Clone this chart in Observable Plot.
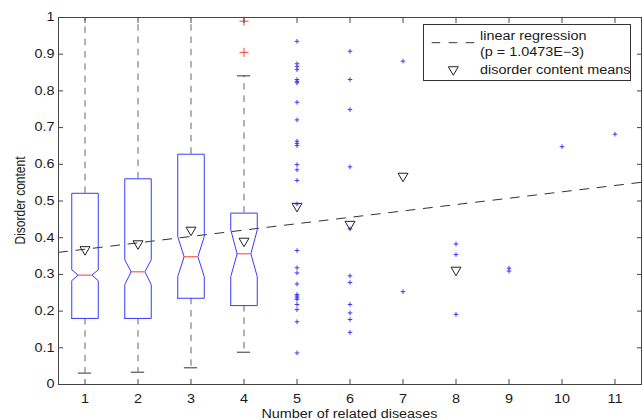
<!DOCTYPE html>
<html>
<head>
<meta charset="utf-8">
<script src="https://cdn.jsdelivr.net/npm/d3@7"></script>
<script src="https://cdn.jsdelivr.net/npm/@observablehq/plot@0.6"></script>
<style>
  html, body { margin: 0; padding: 0; background: #fff; }
</style>
</head>
<body>
<script>
// Disorder content versus number of related diseases

const xTicks = [1, 2, 3, 4, 5, 6, 7, 8, 9, 10, 11];
const yTicks = [0, 0.1, 0.2, 0.3, 0.4, 0.5, 0.6, 0.7, 0.8, 0.9, 1];

// notched box plots for groups 1–4
const boxGroups = [1, 2, 3, 4];
const boxQ1 = [0.180, 0.180, 0.235, 0.215];
const boxQ3 = [0.521, 0.5605, 0.6275, 0.467];
const boxMedian = [0.298, 0.307, 0.348, 0.356];
const notchLow = [0.283, 0.272, 0.294, 0.294];
const notchHigh = [0.3125, 0.340, 0.403, 0.4215];
const whiskerLow = [0.031, 0.0335, 0.0455, 0.088];
const whiskerHigh = [1.0, 1.0, 1.0, 0.841];

// outliers beyond the group 4 whisker
const outlierGroups = [4, 4];
const outlierValues = [0.990, 0.905];

// individual values for the sparser groups 5–11
const scatterGroups = [5, 6, 7, 8, 9, 10, 11];
const scatterValues = [
  [0.935, 0.874, 0.866, 0.858, 0.831, 0.826, 0.822, 0.769, 0.721, 0.663, 0.657, 0.651,
   0.599, 0.585, 0.556, 0.492, 0.365, 0.318, 0.304, 0.274, 0.245, 0.241, 0.236, 0.232,
   0.218, 0.204, 0.171, 0.086],
  [0.908, 0.831, 0.749, 0.593, 0.424, 0.296, 0.278, 0.218, 0.195, 0.177, 0.142],
  [0.881, 0.253],
  [0.383, 0.354, 0.191],
  [0.317, 0.309],
  [0.648],
  [0.682]
];

// group means
const meanGroups = [1, 2, 3, 4, 5, 6, 7, 8];
const meanValues = [0.364, 0.380, 0.417, 0.387, 0.482, 0.433, 0.564, 0.308];

// fitted regression line, evaluated at the ends of the x range
const regressionX = [0.5, 11.5];
const regressionY = [0.360, 0.551];

const legendLines = ["linear regression", "(p = 1.0473E\u22123)", "disorder content means"];
const xLabel = "Number of related diseases";
const yLabel = "Disorder content";

// ---- styling
const BLUE = "#3a3aff";
const RED = "#ff3a3a";
const AXIS = "#444";
const INK = "#1a1a1a";
const WHISKER = "#666";
const BOX_HALF = 0.25;     // half box width, in x units
const NOTCH_HALF = 0.13;   // half width at the median
const CAP_HALF = 0.125;    // half whisker-cap width

const plusSymbol = {
  draw(ctx, size) {
    const r = Math.sqrt(size / Math.PI);
    ctx.moveTo(-r, 0); ctx.lineTo(r, 0);
    ctx.moveTo(0, -r); ctx.lineTo(0, r);
  }
};
const downTriangle = {
  draw(ctx, size) {
    const r = Math.sqrt(size / Math.PI);
    ctx.moveTo(-r, -0.85 * r);
    ctx.lineTo(r, -0.85 * r);
    ctx.lineTo(0, 0.85 * r);
    ctx.closePath();
  }
};

// ---- derived tables
const boxes = boxGroups.map((g, i) => ({
  g, q1: boxQ1[i], q3: boxQ3[i], med: boxMedian[i],
  nlo: notchLow[i], nhi: notchHigh[i], lo: whiskerLow[i], hi: whiskerHigh[i]
}));

const outline = boxes.flatMap(b => [
  [b.g - BOX_HALF, b.q1], [b.g + BOX_HALF, b.q1], [b.g + BOX_HALF, b.nlo],
  [b.g + NOTCH_HALF, b.med], [b.g + BOX_HALF, b.nhi], [b.g + BOX_HALF, b.q3],
  [b.g - BOX_HALF, b.q3], [b.g - BOX_HALF, b.nhi], [b.g - NOTCH_HALF, b.med],
  [b.g - BOX_HALF, b.nlo], [b.g - BOX_HALF, b.q1]
].map(([x, y]) => ({g: b.g, x, y})));

const outliers = outlierGroups.map((g, i) => ({g, v: outlierValues[i]}));
const scatter = scatterGroups.flatMap((g, i) => scatterValues[i].map(v => ({g, v})));
const means = meanGroups.map((g, i) => ({g, v: meanValues[i]}));
const regression = regressionX.map((x, i) => ({x, y: regressionY[i]}));

const chart = Plot.plot({
  width: 642,
  height: 420,
  marginTop: 17,
  marginBottom: 36,
  marginLeft: 58,
  marginRight: 1,
  style: {fontFamily: "'Liberation Sans', Arial, sans-serif", fontSize: "12px", color: INK, background: "#fff"},
  x: {type: "linear", domain: [0.5, 11.5]},
  y: {type: "linear", domain: [0, 1]},
  marks: [
    // regression
    Plot.line(regression, {x: "x", y: "y", stroke: "#333", strokeWidth: 1, strokeDasharray: "9,8.5"}),
    // whiskers
    Plot.ruleX(boxes, {x: "g", y1: "q3", y2: "hi", stroke: WHISKER, strokeWidth: 1, strokeDasharray: "6.5,5.8"}),
    Plot.ruleX(boxes, {x: "g", y1: "q1", y2: "lo", stroke: WHISKER, strokeWidth: 1, strokeDasharray: "6.5,5.8"}),
    Plot.ruleY(boxes, {y: "hi", x1: d => d.g - CAP_HALF, x2: d => d.g + CAP_HALF, stroke: "#333", strokeWidth: 1}),
    Plot.ruleY(boxes, {y: "lo", x1: d => d.g - CAP_HALF, x2: d => d.g + CAP_HALF, stroke: "#333", strokeWidth: 1}),
    // notched boxes
    Plot.line(outline, {x: "x", y: "y", z: "g", stroke: BLUE, strokeWidth: 1, strokeLinejoin: "miter"}),
    Plot.ruleY(boxes, {y: "med", x1: d => d.g - NOTCH_HALF, x2: d => d.g + NOTCH_HALF, stroke: RED, strokeWidth: 1}),
    // outliers and individual values
    Plot.dot(outliers, {x: "g", y: "v", symbol: plusSymbol, r: 4.5, fill: "none", stroke: RED, strokeWidth: 1}),
    Plot.dot(scatter, {x: "g", y: "v", symbol: plusSymbol, r: 2.3, fill: "none", stroke: BLUE, strokeWidth: 1}),
    // means
    Plot.dot(means, {x: "g", y: "v", symbol: downTriangle, r: 5, fill: "none", stroke: "#222", strokeWidth: 1}),
    // axes: labels outside, ticks inward on all four sides
    Plot.axisX(xTicks, {anchor: "bottom", tickSize: 0, tickPadding: 10, label: null, fill: INK, tickFormat: d => String(d)}),
    Plot.axisX(xTicks, {anchor: "bottom", tickSize: -5, fill: "none", stroke: AXIS, label: null}),
    Plot.axisX(xTicks, {anchor: "top", tickSize: -5, fill: "none", stroke: AXIS, label: null}),
    Plot.axisY(yTicks, {anchor: "left", tickSize: 0, tickPadding: 4, label: null, fill: INK, tickFormat: d => String(d)}),
    Plot.axisY(yTicks, {anchor: "left", tickSize: -5, fill: "none", stroke: AXIS, label: null}),
    Plot.axisY(yTicks, {anchor: "right", tickSize: -5, fill: "none", stroke: AXIS, label: null}),
    Plot.frame({stroke: AXIS, strokeWidth: 1})
  ]
});

document.body.appendChild(chart);

const svg = d3.select(chart);

// axis titles
svg.append("text")
  .attr("x", 349.5).attr("y", 417.5)
  .attr("text-anchor", "middle")
  .attr("fill", INK)
  .text(xLabel);

svg.append("text")
  .attr("transform", "translate(25,200.5) scale(1.2,1) rotate(-90)")
  .attr("text-anchor", "middle")
  .attr("fill", INK)
  .text(yLabel);

// legend
const legend = svg.append("g");
legend.append("rect")
  .attr("x", 423.5).attr("y", 24.5).attr("width", 207).attr("height", 56)
  .attr("fill", "#fff").attr("stroke", "#333");
legend.append("line")
  .attr("x1", 431.7).attr("x2", 475).attr("y1", 42.7).attr("y2", 42.7)
  .attr("stroke", "#333").attr("stroke-dasharray", "8.5,8.5");
legend.append("path")
  .attr("transform", "translate(453.3,71)")
  .attr("d", d3.symbol(downTriangle, Math.PI * 25)())
  .attr("fill", "none").attr("stroke", "#222");
[39.5, 56.3, 74].forEach((y, i) => {
  legend.append("text")
    .attr("x", 480).attr("y", y)
    .attr("text-anchor", "start")
    .attr("fill", INK)
    .text(legendLines[i]);
});

// the typeface runs slightly wide: widen every horizontal label
chart.querySelectorAll("text").forEach(t => {
  if ((t.getAttribute("transform") || "").includes("rotate")) return;
  const w = t.getComputedTextLength();
  if (w > 0) {
    t.setAttribute("textLength", (w * 1.2).toFixed(2));
    t.setAttribute("lengthAdjust", "spacingAndGlyphs");
  }
});
</script>
</body>
</html>
